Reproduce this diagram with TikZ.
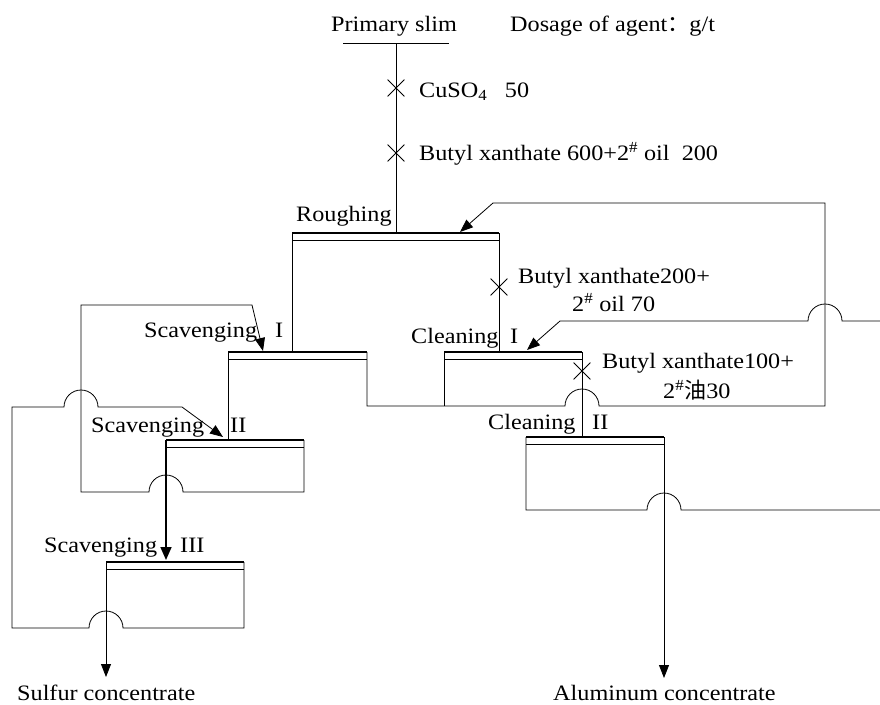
\documentclass[tikz,border=0pt]{standalone}
\usepackage{fontspec}
\setmainfont{Liberation Serif}[FakeStretch=1.1]
\newfontfamily\cjk{Noto Sans CJK SC}
\usetikzlibrary{arrows.meta,shapes.misc}

\begin{document}
\begin{tikzpicture}[x=1pt,y=-1pt,
  flow/.style={line width=0.8pt, line join=miter},
  feed/.style={flow, -{Triangle[length=13pt,width=10pt]}},
  bigfeed/.style={line width=1.6pt, -{Triangle[length=13pt,width=11pt]}},
  cellhead/.style={line width=2.6pt},
  lbl/.style={anchor=base west, inner sep=0pt, font=\fontsize{22}{26}\selectfont},
  dose/.style={cross out, draw, line width=0.8pt, minimum size=16pt, inner sep=0pt},
  ]
\fill[white] (0,0) rectangle (880,704);
\useasboundingbox (0,0) rectangle (880,704);

% top edges of the flotation cells
\coordinate (R-tl)  at (292,233); \coordinate (R-tr)  at (499,233);
\coordinate (S1-tl) at (228,352); \coordinate (S1-tr) at (367,352);
\coordinate (C1-tl) at (444,352); \coordinate (C1-tr) at (582,352);
\coordinate (S2-tl) at (166,440); \coordinate (S2-tr) at (304,440);
\coordinate (C2-tl) at (526,437); \coordinate (C2-tr) at (664,437);
\coordinate (S3-tl) at (106,562); \coordinate (S3-tr) at (244,562);

\foreach \c in {R,S1,C1,S2,C2,S3}{
  \draw[cellhead] (\c-tl) -- (\c-tr);
  \draw[flow] ([yshift=-7pt]\c-tl) -- ([yshift=-7pt]\c-tr);
}

% feed
\coordinate (feed-a) at (343,43);
\coordinate (feed-b) at (449,43);
\coordinate (feed-in) at (396,233);
\draw[flow] (feed-a) -- (feed-b);
\draw[flow] (396,43) -- (feed-in);
\node[dose] (x1) at (396,88) {};
\node[dose] (x2) at (396,153) {};

% roughing products
\draw[flow] (R-tl) -- (292,352);
\draw[flow] (R-tr) -- (499,352);
\node[dose] (x3) at (499,287) {};

% scavenging I tailings to scavenging II
\draw[flow] (S1-tl) -- (228,440);
% middlings back to roughing
\draw[flow] (C1-tl) -- (444,406);
\draw[feed] (S1-tr) -- (367,406) -- (565,406)
  arc[start angle=180,end angle=0,radius=17pt] -- (825,406) -- (825,203)
  -- (493,203) -- (460,232);

% cleaning I concentrate to cleaning II
\draw[flow] (C1-tr) -- (582,437);
\node[dose] (x4) at (582,371) {};

% cleaning II tailings back to cleaning I
\draw[flow] (C2-tl) -- (526,510) -- (647,510)
  arc[start angle=180,end angle=0,radius=17pt] -- (880,510);
\draw[feed] (880,321) -- (842,321)
  arc[start angle=0,end angle=180,radius=17pt] -- (560,321) -- (527,350);
% aluminum concentrate
\draw[feed] (C2-tr) -- (664,678);

% scavenging II
\draw[bigfeed] (S2-tl) -- (166,560);
\draw[feed] (S2-tr) -- (304,492) -- (183,492)
  arc[start angle=0,end angle=180,radius=17pt] -- (81,492) -- (81,305)
  -- (252,305) -- (263,351);

% scavenging III
\draw[feed] (S3-tl) -- (106,677);
\draw[feed] (S3-tr) -- (244,628) -- (123,628)
  arc[start angle=0,end angle=180,radius=17pt] -- (12,628) -- (12,407)
  -- (64,407) arc[start angle=180,end angle=0,radius=17pt] -- (182,407)
  -- (223,437);

% labels
\node[lbl] (slim) at (331,31) {Primary slim};
\node[lbl] (dosage) at (510,31) {Dosage of agent{\cjk ：}g/t};
\node[lbl] (cuso) at (419,97) {CuSO\textsubscript{4}\hspace{0.8em}50};
\node[lbl] (bx1) at (419,160) {Butyl xanthate 600+2\textsuperscript{\#} oil\ \ 200};
\node[lbl] (rlbl) at (296,221) {Roughing};
\node[lbl] (bx2a) at (518,283) {Butyl xanthate200+};
\node[lbl] (bx2b) at (572,311) {2\textsuperscript{\#} oil 70};
\node[lbl] (c1w) at (411,343) {Cleaning};
\node[lbl] (c1n) at (510,343) {I};
\node[lbl] (bx3a) at (602,368) {Butyl xanthate100+};
\node[lbl] (bx3b) at (663,398) {2\textsuperscript{\#}{\cjk 油}30};
\node[lbl] (c2w) at (488,429) {Cleaning};
\node[lbl] (c2n) at (592,429) {II};
\node[lbl] (s1w) at (144,337) {Scavenging};
\node[lbl] (s1n) at (275,337) {I};
\node[lbl] (s2w) at (91,432) {Scavenging};
\node[lbl] (s2n) at (230,432) {II};
\node[lbl] (s3w) at (44,552) {Scavenging};
\node[lbl] (s3n) at (180,552) {III};
\node[lbl] (sulf) at (17,700) {Sulfur concentrate};
\node[lbl] (alum) at (553,700) {Aluminum concentrate};
\end{tikzpicture}
\end{document}
